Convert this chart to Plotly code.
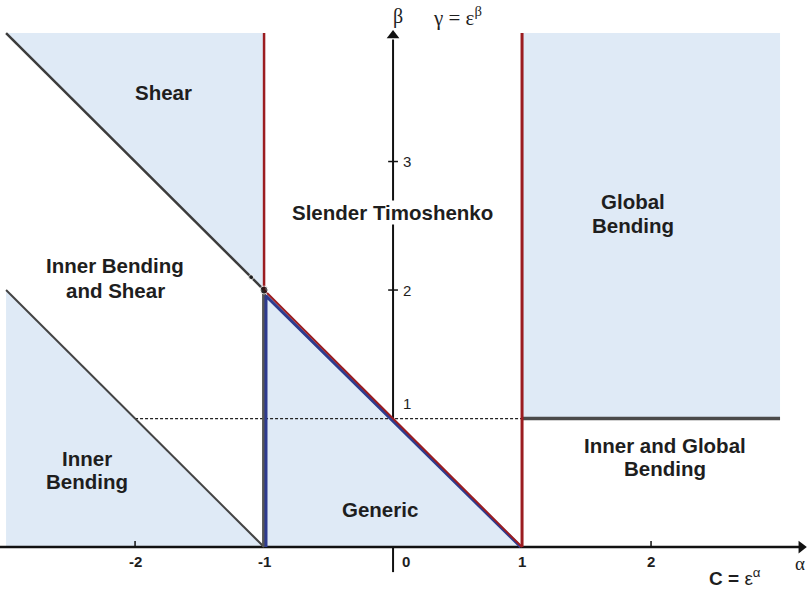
import plotly.graph_objects as go

# Extent of the (alpha, beta) plane shown
alpha_range = [-3.047, 3.209]
beta_range = [-0.342, 4.257]

# Axis ticks
alpha_ticks = [-2, -1, 0, 1, 2]
alpha_tick_labels = ["-2", "-1", "0", "1", "2"]
beta_ticks = [1, 2, 3]
beta_tick_labels = ["1", "2", "3"]

# Shaded regimes (polygon vertices, alpha / beta)
shear_alpha = [-3, -1, -1, -3]
shear_beta = [4, 2, 4, 4]
inner_bending_alpha = [-3, -1, -3]
inner_bending_beta = [0, 0, 2]
generic_alpha = [-1, 1, -1]
generic_beta = [0, 0, 2]
global_bending_alpha = [1, 3, 3, 1]
global_bending_beta = [1, 1, 4, 4]

# Regime boundaries
upper_diag_alpha = [-3, -1]
upper_diag_beta = [4, 2]
lower_diag_alpha = [-3, -1]
lower_diag_beta = [2, 0]
generic_left_alpha = [-1, -1]
generic_left_beta = [0, 2]
generic_blue_alpha = [-0.985, -0.985, 0.99]
generic_blue_beta = [0, 1.955, 0]
generic_red_alpha = [-1, 1]
generic_red_beta = [2, 0]
red_left_alpha = [-1, -1]
red_left_beta = [2, 4]
red_right_alpha = [1, 1]
red_right_beta = [0, 4]
dashed_alpha = [-2, 1]
dashed_beta = [1, 1]
global_floor_alpha = [1, 3]
global_floor_beta = [1, 1]

# Regime names (one entry per text line)
region_lines = [
    "Shear",
    "Slender Timoshenko",
    "Global", "Bending",
    "Inner Bending", "and Shear",
    "Inner", "Bending",
    "Inner and Global", "Bending",
    "Generic",
]
region_alpha = [-1.783, -0.008, 1.86, 1.86, -2.155, -2.155,
                -2.372, -2.372, 2.109, 2.109, -0.10]
region_beta = [3.54, 2.607, 2.69, 2.50, 2.19, 2.0,
               0.69, 0.51, 0.79, 0.61, 0.29]

FILL = "#dfeaf6"
RED = "#9b1c20"
BLUE = "#2e3b8f"
GREY = "#3c3c3c"
TEXT = "#1e1e1e"

fig = go.Figure()


def area(xs, ys):
    fig.add_trace(go.Scatter(x=xs, y=ys, fill="toself", fillcolor=FILL,
                             mode="lines", line=dict(width=0),
                             hoverinfo="skip", showlegend=False))


def seg(xs, ys, color, width, dash="solid"):
    fig.add_trace(go.Scatter(x=xs, y=ys, mode="lines",
                             line=dict(color=color, width=width, dash=dash),
                             hoverinfo="skip", showlegend=False))


# beta axis (the lower stub only pokes out below the shaded triangle)
seg([0, 0], [1, 3.95], "#111111", 2)
seg([0, 0], [-0.195, 0.11], "#111111", 2)

area(shear_alpha, shear_beta)
area(inner_bending_alpha, inner_bending_beta)
area(generic_alpha, generic_beta)
area(global_bending_alpha, global_bending_beta)

# alpha axis
seg([alpha_range[0], 3.16], [0, 0], "#111111", 2.5)

seg(dashed_alpha, dashed_beta, "#222222", 1.2, "3px,2px")
seg(global_floor_alpha, global_floor_beta, "#4a4a4a", 3.5)
seg(upper_diag_alpha, upper_diag_beta, GREY, 2.5)
seg(lower_diag_alpha, lower_diag_beta, "#444444", 2)
seg(generic_left_alpha, generic_left_beta, "#555555", 4)
seg(generic_blue_alpha, generic_blue_beta, BLUE, 3)
seg(generic_red_alpha, generic_red_beta, RED, 2)
seg(red_left_alpha, red_left_beta, RED, 2.5)
seg(red_right_alpha, red_right_beta, RED, 3)

# corner dot where the shear boundary meets the generic triangle
fig.add_trace(go.Scatter(x=[-1.0, -1.1], y=[2.0, 2.1], mode="markers",
                         marker=dict(color="#111111", size=[8, 5]),
                         hoverinfo="skip", showlegend=False))

# arrow heads
fig.add_trace(go.Scatter(x=[0], y=[3.98], mode="markers",
                         marker=dict(symbol="triangle-up", size=11, color="#111111"),
                         hoverinfo="skip", showlegend=False))
fig.add_trace(go.Scatter(x=[3.165], y=[0], mode="markers",
                         marker=dict(symbol="triangle-right", size=11, color="#111111"),
                         hoverinfo="skip", showlegend=False))

# tick marks
fig.add_trace(go.Scatter(x=[0, 0], y=[2, 3], mode="markers",
                         marker=dict(symbol="line-ew", size=7,
                                     line=dict(color="#111111", width=1.5)),
                         hoverinfo="skip", showlegend=False))
fig.add_trace(go.Scatter(x=[-2, 2], y=[0.02, 0.02], mode="markers",
                         marker=dict(symbol="line-ns", size=5,
                                     line=dict(color="#111111", width=1.5)),
                         hoverinfo="skip", showlegend=False))

# tick labels
for a, lab in zip(alpha_ticks, alpha_tick_labels):
    fig.add_annotation(x=a + (0.1 if a == 0 else 0), y=-0.115, text="<b>%s</b>" % lab,
                       showarrow=False,
                       font=dict(family="Liberation Sans", size=15, color=TEXT))
for b, lab in zip(beta_ticks, beta_tick_labels):
    fig.add_annotation(x=0.105, y=b + (0.12 if b == 1 else 0.0), text=lab,
                       showarrow=False,
                       font=dict(family="Liberation Sans", size=15, color=TEXT))

# regime names
for name, a, b in zip(region_lines, region_alpha, region_beta):
    fig.add_annotation(x=a, y=b, text="<b>%s</b>" % name, showarrow=False,
                       font=dict(family="Liberation Sans", size=20.5, color=TEXT),
                       bgcolor="white" if name == "Slender Timoshenko" else "rgba(255,255,255,0)",
                       borderpad=0, align="center")

# axis titles
fig.add_annotation(x=0.04, y=4.13, text="β", showarrow=False,
                   font=dict(family="Liberation Serif", size=20, color=TEXT))
fig.add_annotation(x=0.50, y=4.13, text="γ = ε<sup>β</sup>", showarrow=False,
                   font=dict(family="Liberation Serif", size=21, color=TEXT))
fig.add_annotation(x=3.155, y=-0.125, text="α", showarrow=False,
                   font=dict(family="Liberation Serif", size=19, color=TEXT))
fig.add_annotation(x=2.65, y=-0.235, text="<b>C = </b>ε<sup>α</sup>", showarrow=False,
                   font=dict(family="Liberation Sans", size=19, color=TEXT))

fig.update_xaxes(range=alpha_range, visible=False, fixedrange=True)
fig.update_yaxes(range=beta_range, visible=False, fixedrange=True)
fig.update_layout(width=807, height=591, margin=dict(l=0, r=0, t=0, b=0),
                  plot_bgcolor="white", paper_bgcolor="white")

fig.write_html("out.html")
